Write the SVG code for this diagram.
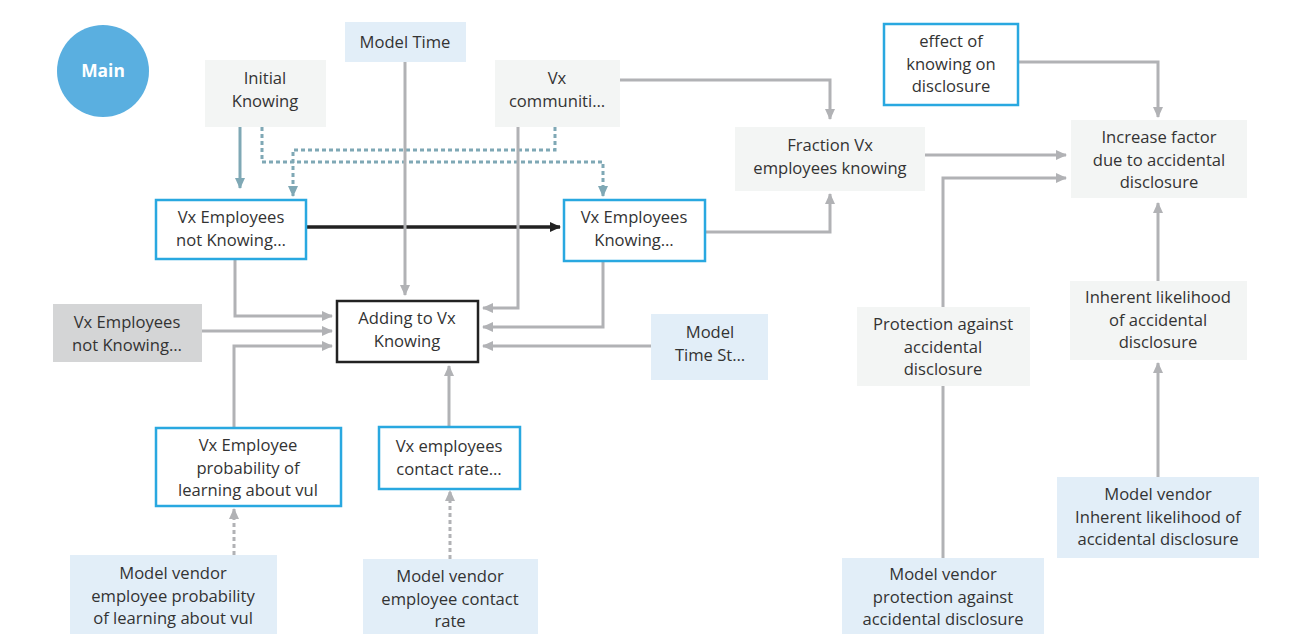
<svg xmlns="http://www.w3.org/2000/svg" width="1292" height="634" viewBox="0 0 1292 634">
<style>
text{font-family:"Open Sans","Noto Sans","Liberation Sans",sans-serif;font-size:16.6px;fill:#333;text-anchor:middle}
.aux{fill:#f3f5f4}
.ghost{fill:#d4d5d6}
.model{fill:#e2eef8}
.stock{fill:#fff;stroke:#29a8e0;stroke-width:2.5}
.cons{fill:#fff;stroke:#29a8e0;stroke-width:2.5}
.flowaux{fill:#fff;stroke:#222;stroke-width:2.5}
.ln{fill:none;stroke:#b1b2b5;stroke-width:3}
.dash{fill:none;stroke:#b1b2b5;stroke-width:3;stroke-dasharray:4 3}
.tdash{fill:none;stroke:#7fa8b5;stroke-width:3;stroke-dasharray:4 3}
.tln{fill:none;stroke:#7fa8b5;stroke-width:3}
.flow{fill:none;stroke:#222;stroke-width:3.5}
</style>
<defs>
<marker id="ag" markerUnits="userSpaceOnUse" markerWidth="12" markerHeight="12" refX="10" refY="6" orient="auto"><path d="M0,1 L11,6 L0,11 Z" fill="#b1b2b5"/></marker>
<marker id="at" markerUnits="userSpaceOnUse" markerWidth="12" markerHeight="12" refX="10" refY="6" orient="auto"><path d="M0,1 L11,6 L0,11 Z" fill="#7fa8b5"/></marker>
<marker id="ab" markerUnits="userSpaceOnUse" markerWidth="12" markerHeight="12" refX="10" refY="6" orient="auto"><path d="M0,1 L11,6 L0,11 Z" fill="#222"/></marker>
</defs>
<rect width="1292" height="634" fill="#fff"/>

<g id="connectors">
<path class="tln" d="M240,127 V188" marker-end="url(#at)"/>
<path class="tdash" d="M262,127 V162 H603 V196" marker-end="url(#at)"/>
<path class="tdash" d="M555,127 V150 H293 V196" marker-end="url(#at)"/>
<path class="flow" d="M306,227 H560" marker-end="url(#ab)"/>
<path class="ln" d="M405,62 V295" marker-end="url(#ag)"/>
<path class="ln" d="M518,127 V308 H483" marker-end="url(#ag)"/>
<path class="ln" d="M620,80 H830 V119" marker-end="url(#ag)"/>
<path class="ln" d="M603,261 V327 H483" marker-end="url(#ag)"/>
<path class="ln" d="M651,346 H483" marker-end="url(#ag)"/>
<path class="ln" d="M235,259 V316 H332" marker-end="url(#ag)"/>
<path class="ln" d="M202,331 H332" marker-end="url(#ag)"/>
<path class="ln" d="M234,428 V346 H332" marker-end="url(#ag)"/>
<path class="ln" d="M449,427 V366" marker-end="url(#ag)"/>
<path class="dash" d="M234,555 V509" marker-end="url(#ag)"/>
<path class="dash" d="M450,559 V491" marker-end="url(#ag)"/>
<path class="ln" d="M705,232 H830 V194" marker-end="url(#ag)"/>
<path class="ln" d="M925,155 H1066" marker-end="url(#ag)"/>
<path class="ln" d="M943,307 V178 H1066" marker-end="url(#ag)"/>
<path class="ln" d="M943,386 V558"/>
<path class="ln" d="M1018,62 H1158 V117" marker-end="url(#ag)"/>
<path class="ln" d="M1158,281 V203" marker-end="url(#ag)"/>
<path class="ln" d="M1158,477 V363" marker-end="url(#ag)"/>
</g>

<g id="main"><circle cx="103" cy="71" r="46" fill="#5aafe0"/><text x="103" y="77" style="fill:#fff;font-weight:bold;font-size:17.4px">Main</text></g>

<g id="initial-knowing"><rect class="aux" x="205" y="60" width="121" height="67"/><text x="265" y="84">Initial<tspan x="265" dy="22.7">Knowing</tspan></text></g>
<g id="model-time"><rect class="model" x="345" y="22" width="121" height="40"/><text x="405" y="48">Model Time</text></g>
<g id="vx-communiti"><rect class="aux" x="495" y="60" width="125" height="67"/><text x="557" y="84">Vx<tspan x="557" dy="22.7">communiti…</tspan></text></g>
<g id="fraction"><rect class="aux" x="735" y="127" width="190" height="64"/><text x="830" y="151">Fraction Vx<tspan x="830" dy="22.7">employees knowing</tspan></text></g>
<g id="effect"><rect class="cons" x="884" y="24" width="134" height="81"/><text x="951" y="47">effect of<tspan x="951" dy="22.7">knowing on</tspan><tspan x="951" dy="22.7">disclosure</tspan></text></g>
<g id="increase"><rect class="aux" x="1071" y="120" width="176" height="78"/><text x="1159" y="143">Increase factor<tspan x="1159" dy="22.7">due to accidental</tspan><tspan x="1159" dy="22.7">disclosure</tspan></text></g>
<g id="stock-not-knowing"><rect class="stock" x="156" y="200" width="150" height="59"/><text x="231" y="223">Vx Employees<tspan x="231" dy="22.7">not Knowing…</tspan></text></g>
<g id="stock-knowing"><rect class="stock" x="564" y="200" width="141" height="61"/><text x="634" y="223">Vx Employees<tspan x="634" dy="22.7">Knowing…</tspan></text></g>
<g id="adding"><rect class="flowaux" x="337" y="301" width="141" height="61"/><text x="407" y="324">Adding to Vx<tspan x="407" dy="22.7">Knowing</tspan></text></g>
<g id="ghost-not-knowing"><rect class="ghost" x="53" y="304" width="149" height="58"/><text x="127" y="328">Vx Employees<tspan x="127" dy="22.7">not Knowing…</tspan></text></g>
<g id="model-time-step"><rect class="model" x="651" y="314" width="117" height="66"/><text x="710" y="338">Model<tspan x="710" dy="22.7">Time St…</tspan></text></g>
<g id="prob-learning"><rect class="cons" x="156" y="428" width="185" height="78"/><text x="248" y="451">Vx Employee<tspan x="248" dy="22.7">probability of</tspan><tspan x="248" dy="22.7">learning about vul</tspan></text></g>
<g id="contact-rate"><rect class="cons" x="379" y="427" width="141" height="62"/><text x="449" y="452">Vx employees<tspan x="449" dy="22.7">contact rate…</tspan></text></g>
<g id="mv-prob"><rect class="model" x="70" y="555" width="207" height="79"/><text x="173" y="579">Model vendor<tspan x="173" dy="22.7">employee probability</tspan><tspan x="173" dy="22.7">of learning about vul</tspan></text></g>
<g id="mv-contact"><rect class="model" x="363" y="559" width="175" height="75"/><text x="450" y="582">Model vendor<tspan x="450" dy="22.7">employee contact</tspan><tspan x="450" dy="22.7">rate</tspan></text></g>
<g id="protection"><rect class="aux" x="857" y="307" width="173" height="79"/><text x="943" y="330">Protection against<tspan x="943" dy="22.7">accidental</tspan><tspan x="943" dy="22.7">disclosure</tspan></text></g>
<g id="inherent"><rect class="aux" x="1070" y="281" width="177" height="79"/><text x="1158" y="303">Inherent likelihood<tspan x="1158" dy="22.7">of accidental</tspan><tspan x="1158" dy="22.7">disclosure</tspan></text></g>
<g id="mv-inherent"><rect class="model" x="1057" y="477" width="202" height="81"/><text x="1158" y="500">Model vendor<tspan x="1158" dy="22.7">Inherent likelihood of</tspan><tspan x="1158" dy="22.7">accidental disclosure</tspan></text></g>
<g id="mv-protection"><rect class="model" x="842" y="558" width="202" height="76"/><text x="943" y="580">Model vendor<tspan x="943" dy="22.7">protection against</tspan><tspan x="943" dy="22.7">accidental disclosure</tspan></text></g>
</svg>
